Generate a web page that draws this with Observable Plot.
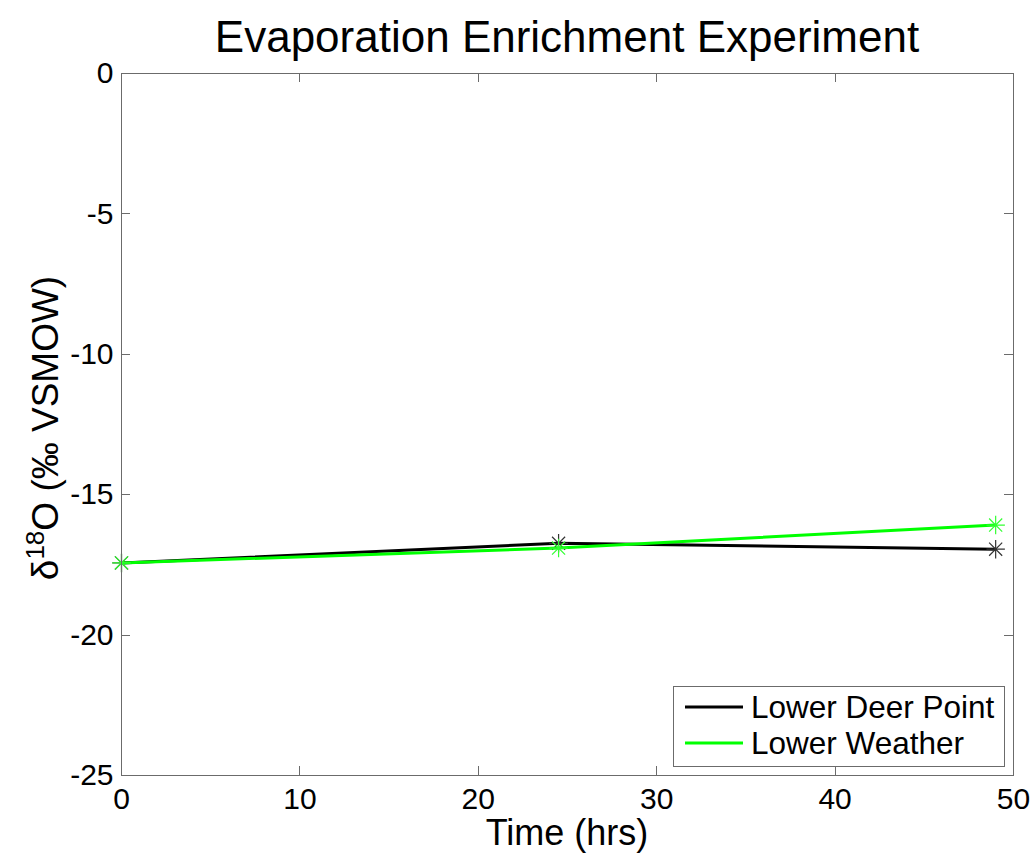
<!DOCTYPE html>
<html>
<head>
<meta charset="utf-8">
<script src="https://cdn.jsdelivr.net/npm/d3@7"></script>
<script src="https://cdn.jsdelivr.net/npm/@observablehq/plot@0.6"></script>
<style>
  html, body { margin: 0; padding: 0; background: #fff; }
  #chart { width: 1034px; height: 854px; }
</style>
</head>
<body>
<div id="chart"></div>
<script>
// Sampling times (hours) and δ18O readings (‰ VSMOW) for each site
const hours = [0, 24.5, 49];
const lowerDeerPoint = [-17.43, -16.73, -16.94];
const lowerWeather = [-17.43, -16.90, -16.08];

const seriesNames = ["Lower Deer Point", "Lower Weather"];
const seriesColors = ["#000000", "#00ff00"];
const markerColors = ["#333333", "#33ff33"];

const xTicks = [0, 10, 20, 30, 40, 50];
const yTicks = [0, -5, -10, -15, -20, -25];

const titleText = "Evaporation Enrichment Experiment";
const xLabel = "Time (hrs)";

const FONT = "'Liberation Sans', Arial, Helvetica, sans-serif";
const AXIS_GREY = "#6b6b6b";

const deerRows = hours.map((t, i) => ({t, v: lowerDeerPoint[i]}));
const weatherRows = hours.map((t, i) => ({t, v: lowerWeather[i]}));

// MATLAB-style inward ticks on all four sides of the box
function inwardTicks(index, {x, y}, values, dims) {
  const len = 9;
  const g = d3.create("svg:g")
    .attr("stroke", AXIS_GREY)
    .attr("stroke-width", 1)
    .attr("shape-rendering", "crispEdges");
  const top = dims.marginTop, bottom = dims.height - dims.marginBottom;
  const left = dims.marginLeft, right = dims.width - dims.marginRight;
  for (const t of xTicks) {
    const px = Math.round(x(t)) + 0.5;
    g.append("line").attr("x1", px).attr("x2", px).attr("y1", bottom).attr("y2", bottom - len);
    g.append("line").attr("x1", px).attr("x2", px).attr("y1", top).attr("y2", top + len);
  }
  for (const t of yTicks) {
    const py = Math.round(y(t)) + 0.5;
    g.append("line").attr("y1", py).attr("y2", py).attr("x1", left).attr("x2", left + len);
    g.append("line").attr("y1", py).attr("y2", py).attr("x1", right).attr("x2", right - len);
  }
  return g.node();
}

// Boxed legend in the lower-right corner of the axes
function legendBox(index, scales, values, dims) {
  const right = dims.width - dims.marginRight;
  const bottom = dims.height - dims.marginBottom;
  const w = 331, h = 80;
  const x0 = right - 9 - w, y0 = bottom - 9 - h;
  const g = d3.create("svg:g");
  g.append("rect")
    .attr("x", x0 + 0.5).attr("y", y0 + 0.5)
    .attr("width", w).attr("height", h)
    .attr("fill", "white").attr("stroke", AXIS_GREY).attr("stroke-width", 1);
  seriesNames.forEach((name, i) => {
    const cy = y0 + 21 + i * 36;
    g.append("line")
      .attr("x1", x0 + 12).attr("x2", x0 + 70)
      .attr("y1", cy).attr("y2", cy)
      .attr("stroke", seriesColors[i]).attr("stroke-width", 3);
    g.append("text")
      .attr("x", x0 + 78).attr("y", cy + 11)
      .attr("text-anchor", "start")
      .attr("font-family", FONT).attr("font-size", 31.5)
      .attr("fill", "black")
      .text(name);
  });
  return g.node();
}

// Title and axis titles
function annotations(index, scales, values, dims) {
  const g = d3.create("svg:g").attr("font-family", FONT).attr("fill", "black");
  const cx = (dims.marginLeft + dims.width - dims.marginRight) / 2;
  const cy = (dims.marginTop + dims.height - dims.marginBottom) / 2;
  g.append("text")
    .attr("x", cx).attr("y", 52)
    .attr("text-anchor", "middle").attr("font-size", 44)
    .text(titleText);
  g.append("text")
    .attr("x", cx).attr("y", 845)
    .attr("text-anchor", "middle").attr("font-size", 36)
    .text(xLabel);
  const yl = g.append("text")
    .attr("transform", `translate(58,${cy + 4}) rotate(-90)`)
    .attr("text-anchor", "middle").attr("font-size", 37);
  yl.append("tspan").text("δ");
  yl.append("tspan").attr("dy", -14).attr("font-size", 26).text("18");
  yl.append("tspan").attr("dy", 14).text("O (‰ VSMOW)");
  return g.node();
}

// Line plus an eight-armed asterisk marker at each sample
function seriesMarks(rows, i) {
  return [
    Plot.line(rows, {x: "t", y: "v", stroke: seriesColors[i], strokeWidth: 3}),
    Plot.dot(rows, {x: "t", y: "v", symbol: "plus", r: 6, fill: "none", stroke: markerColors[i], strokeWidth: 1.2}),
    Plot.dot(rows, {x: "t", y: "v", symbol: "times", r: 6, fill: "none", stroke: markerColors[i], strokeWidth: 1.2})
  ];
}

const chart = Plot.plot({
  width: 1034,
  height: 854,
  marginLeft: 121,
  marginRight: 21,
  marginTop: 73,
  marginBottom: 79,
  style: {fontFamily: FONT, fontSize: "30px", color: "black", background: "white"},
  x: {domain: [0, 50], label: null},
  y: {domain: [-25, 0], label: null},
  marks: [
    Plot.axisX({ticks: xTicks, tickSize: 0, tickPadding: 12, tickFormat: d => `${d}`, fontSize: 30, label: null}),
    Plot.axisY({ticks: yTicks, tickSize: 0, tickPadding: 8, tickFormat: d => `${d}`, fontSize: 30, label: null}),
    ...seriesMarks(deerRows, 0),
    ...seriesMarks(weatherRows, 1),
    Plot.frame({stroke: AXIS_GREY, strokeWidth: 1}),
    inwardTicks,
    legendBox,
    annotations
  ]
});

document.getElementById("chart").appendChild(chart);
</script>
</body>
</html>
